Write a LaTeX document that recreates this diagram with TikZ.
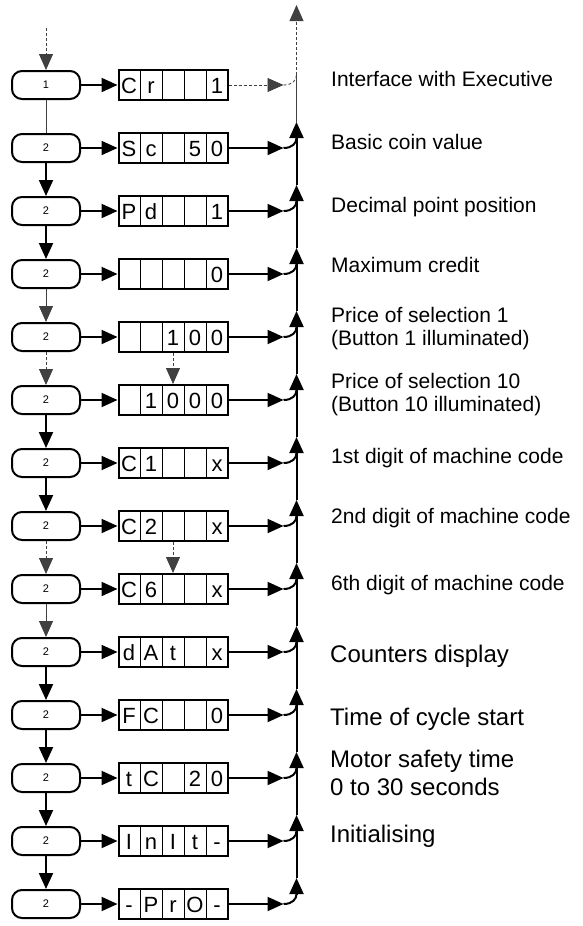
\documentclass[tikz,border=0pt]{standalone}
\usepackage{fontspec}
\setmainfont{Liberation Sans}
\usetikzlibrary{positioning,arrows.meta}

\newcommand{\dcell}[1]{\parbox[c][30pt][c]{21pt}{\centering\rule[-7pt]{0pt}{30pt}#1}}
\newcommand{\dsep}{\vrule width 1pt}
\newcommand{\disp}[5]{\dcell{#1}\dsep\dcell{#2}\dsep\dcell{#3}\dsep\dcell{#4}\dsep\dcell{#5}}

\begin{document}
\begin{tikzpicture}[x=1pt,y=1pt,node distance=63pt,on grid,
    >={Triangle[length=16pt,width=14pt]},
    pill/.style={draw,line width=2pt,rounded corners=10pt,minimum width=68pt,minimum height=28pt,inner sep=0pt,font=\fontsize{11}{12}\selectfont},
    disp/.style={draw,line width=2pt,inner sep=0pt,font=\fontsize{22}{24}\selectfont},
    lbl/.style={anchor=base west,inner sep=0pt,align=left,font=\fontsize{21}{23.5}\selectfont},
    biglbl/.style={lbl,font=\fontsize{24}{28}\selectfont},
    thk/.style={line width=2pt},
    thn/.style={line width=0.8pt,black!75},
    dsh/.style={line width=0.8pt,black!75,dash pattern=on 3pt off 2pt}]
\useasboundingbox (0,0) rectangle (582,-926);

% states
\node[pill] (p1) at (46,-85) {1};
\node[pill,below=of p1] (p2) {2};
\node[pill,below=of p2] (p3) {2};
\node[pill,below=of p3] (p4) {2};
\node[pill,below=of p4] (p5) {2};
\node[pill,below=of p5] (p6) {2};
\node[pill,below=of p6] (p7) {2};
\node[pill,below=of p7] (p8) {2};
\node[pill,below=of p8] (p9) {2};
\node[pill,below=of p9] (p10) {2};
\node[pill,below=of p10] (p11) {2};
\node[pill,below=of p11] (p12) {2};
\node[pill,below=of p12] (p13) {2};
\node[pill,below=of p13] (p14) {2};
\coordinate[above=57pt of p1] (in);

% displays
\node[disp,right=127pt of p1] (d1) {\disp{C}{r}{}{}{1}};
\node[disp,right=127pt of p2] (d2) {\disp{S}{c}{}{5}{0}};
\node[disp,right=127pt of p3] (d3) {\disp{P}{d}{}{}{1}};
\node[disp,right=127pt of p4] (d4) {\disp{}{}{}{}{0}};
\node[disp,right=127pt of p5] (d5) {\disp{}{}{1}{0}{0}};
\node[disp,right=127pt of p6] (d6) {\disp{}{1}{0}{0}{0}};
\node[disp,right=127pt of p7] (d7) {\disp{C}{1}{}{}{x}};
\node[disp,right=127pt of p8] (d8) {\disp{C}{2}{}{}{x}};
\node[disp,right=127pt of p9] (d9) {\disp{C}{6}{}{}{x}};
\node[disp,right=127pt of p10] (d10) {\disp{d}{A}{t}{}{x}};
\node[disp,right=127pt of p11] (d11) {\disp{F}{C}{}{}{0}};
\node[disp,right=127pt of p12] (d12) {\disp{t}{C}{}{2}{0}};
\node[disp,right=127pt of p13] (d13) {\disp{I}{n}{I}{t}{-}};
\node[disp,right=127pt of p14] (d14) {\disp{-}{P}{r}{O}{-}};

% descriptions (base = last line)
\node[lbl] (l1) at (331,-86) {Interface with Executive};
\node[lbl] (l2) at (331,-149) {Basic coin value};
\node[lbl] (l3) at (331,-212) {Decimal point position};
\node[lbl] (l4) at (331,-272) {Maximum credit};
\node[lbl] (l5) at (331,-345.5) {Price of selection 1\\(Button 1 illuminated)};
\node[lbl] (l6) at (331,-411.5) {Price of selection 10\\(Button 10 illuminated)};
\node[lbl] (l7) at (331,-463) {1st digit of machine code};
\node[lbl] (l8) at (331,-523) {2nd digit of machine code};
\node[lbl] (l9) at (331,-590) {6th digit of machine code};
\node[biglbl] (l10) at (330,-662) {Counters display};
\node[biglbl] (l11) at (330,-725) {Time of cycle start};
\node[biglbl] (l12) at (330,-795) {Motor safety time\\0 to 30 seconds};
\node[biglbl] (l13) at (330,-842) {Initialising};

% sequence
\draw[dsh,->] (in) -- (p1);
\draw[thn] (p1) -- (p2);
\draw[thk,->] (p2) -- (p3);
\draw[thk,->] (p3) -- (p4);
\draw[thn,->] (p4) -- (p5);
\draw[dsh,->] (p5) -- (p6);
\draw[dsh,->] (d5) -- (d6);
\draw[thk,->] (p6) -- (p7);
\draw[thk,->] (p7) -- (p8);
\draw[dsh,->] (p8) -- (p9);
\draw[dsh,->] (d8) -- (d9);
\draw[thn,->] (p9) -- (p10);
\draw[thk,->] (p10) -- (p11);
\draw[thk,->] (p11) -- (p12);
\draw[thk,->] (p12) -- (p13);
\draw[thk,->] (p13) -- (p14);
\foreach \k in {1,...,14}
    \draw[thk,->] (p\k) -- (d\k);

% return bus
\foreach \k in {1,...,14}
    \path (d\k.east) ++(55,0) coordinate (h\k) ++(13,10) coordinate (j\k) ++(0,16) coordinate (t\k);
\coordinate[above=70pt of j1] (top);
\draw[dsh,->] (d1) -- (h1);
\draw[dsh] (h1) .. controls +(9,0) and +(0,-5) .. (j1);
\draw[dsh,->] (j1) -- (top);
\draw[thn] (t2) -- (j1);
\foreach \k in {2,...,14} {
    \draw[thk,->] (d\k) -- (h\k);
    \draw[thk] (h\k) .. controls +(9,0) and +(0,-5) .. (j\k);
    \draw[thk,->] (j\k) -- (t\k);
}
\foreach \k [evaluate=\k as \u using int(\k-1)] in {3,...,14}
    \draw[thk] (t\k) -- (j\u);
\end{tikzpicture}
\end{document}
